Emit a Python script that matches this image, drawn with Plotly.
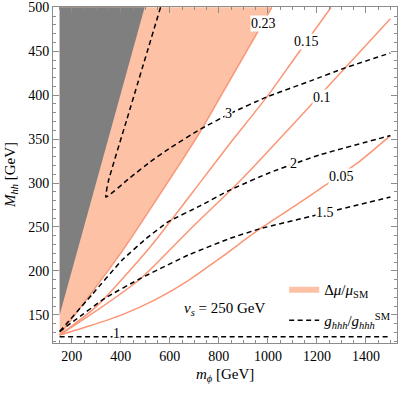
import plotly.graph_objects as go

# ──────────  DATA  ──────────
# kinematically excluded region (dark grey)
excl_m = [150, 150, 497]
excl_M = [150, 500, 500]

# Δμ/μ_SM contours (salmon)
mu023_m = [150, 404, 594, 723, 847, 1016]
mu023_M = [127, 222, 302, 358, 418, 500]
mu015_m = [150, 302, 519, 730, 845, 996, 1104, 1258]
mu015_M = [127, 160, 227, 303, 345, 398, 440, 500]
mu010_m = [150, 302, 484, 685, 888, 1110, 1312, 1500]
mu010_M = [127, 155, 192, 248, 303, 369, 430, 487]
mu005_m = [150, 267, 404, 539, 675, 812, 968, 1110, 1226, 1362, 1500]
mu005_M = [127, 137, 150, 167, 189, 216, 248, 274, 296, 322, 354]

# g_hhh / g_hhh^SM contours (dashed)
g1_m = [150, 1500]
g1_M = [125, 125]
g15_m = [150, 213, 335, 484, 675, 845, 968, 1233, 1500]
g15_M = [131, 144, 169, 192, 218, 237, 248, 266, 284]
g2_m = [150, 282, 404, 504, 594, 723, 845, 1009, 1211, 1500]
g2_M = [131, 173, 212, 237, 256, 274, 292, 312, 332, 354]
g3_m = [562, 424, 349, 339, 437, 519, 601, 723, 845, 996, 1172, 1315, 1500]
g3_M = [500, 372, 302, 284, 306, 324, 340, 361, 379, 398, 416, 431, 448]

# contour labels
lab_txt = ["0.23", "0.15", "0.1", "0.05", "3", "2", "1.5", "1"]
lab_m = [981, 1158, 1220, 1302, 838, 1104, 1233, 382]
lab_M = [481, 461, 397, 308, 379, 322, 266, 129]

# ──────────  STYLE  ──────────
FONT   = "Liberation Serif"
SALMON = "rgb(250,150,118)"
FILL   = "rgb(253,193,166)"
GREY   = "rgb(127,127,127)"
FRAME  = "rgb(140,140,140)"
DASH   = "5px,3.5px"

fig = go.Figure()

# filled region Δμ/μ_SM > 0.23
fig.add_trace(go.Scatter(
    x=mu023_m + [150], y=mu023_M + [500],
    fill="toself", fillcolor=FILL, mode="lines", line=dict(width=0),
    name="Δ<i>μ</i>/<i>μ</i><sub>SM</sub>", legendgroup="a", hoverinfo="skip"
))

fig.add_trace(go.Scatter(
    x=excl_m, y=excl_M, fill="toself", fillcolor=GREY,
    mode="lines", line=dict(width=0), showlegend=False, hoverinfo="skip"
))

for xs, ys in [(mu023_m, mu023_M), (mu015_m, mu015_M),
               (mu010_m, mu010_M), (mu005_m, mu005_M)]:
    fig.add_trace(go.Scatter(
        x=xs, y=ys, mode="lines",
        line=dict(color=SALMON, width=1.5, shape="spline", smoothing=0.6),
        showlegend=False
    ))

dashed = [(g1_m, g1_M), (g15_m, g15_M), (g2_m, g2_M), (g3_m, g3_M)]
for i, (xs, ys) in enumerate(dashed):
    fig.add_trace(go.Scatter(
        x=xs, y=ys, mode="lines",
        line=dict(color="black", width=1.5, dash=DASH,
                  shape="spline", smoothing=0.4),
        name="<i>g</i><sub><i>hhh</i></sub>/<i>g</i><sub><i>hhh</i></sub><sup>SM</sup>",
        legendgroup="b", showlegend=(i == 0)
    ))

for t, xm, ym in zip(lab_txt, lab_m, lab_M):
    fig.add_annotation(x=xm, y=ym, text=t, showarrow=False,
                       bgcolor="white", borderpad=0,
                       font=dict(family=FONT, size=14, color="black"))

fig.add_annotation(x=821, y=157, text="<i>v</i><sub><i>s</i></sub> = 250 GeV",
                   showarrow=False, font=dict(family=FONT, size=15, color="black"))

# axis titles
fig.add_annotation(xref="paper", yref="paper", x=0.5, y=-0.062,
                   xanchor="center", yanchor="top",
                   text="<i>m</i><sub><i>ϕ</i></sub> [GeV]", showarrow=False,
                   font=dict(family=FONT, size=15, color="black"))
fig.add_annotation(xref="paper", yref="paper", x=-0.122, y=0.5, textangle=-90,
                   xanchor="center", yanchor="middle",
                   text="<i>M</i><sub><i>hh</i></sub> [GeV]", showarrow=False,
                   font=dict(family=FONT, size=15, color="black"))

axis_common = dict(
    showline=True, linecolor=FRAME, linewidth=1, mirror="allticks",
    ticks="inside", ticklen=6, tickcolor=FRAME, showgrid=False, zeroline=False,
    automargin=False,
    tickfont=dict(family=FONT, size=14, color="black"),
)
fig.update_xaxes(range=[123, 1527], tick0=200, dtick=200,
                 minor=dict(dtick=50, ticks="inside", ticklen=3, tickcolor=FRAME),
                 **axis_common)
fig.update_yaxes(range=[118, 500.3], tick0=150, dtick=50,
                 minor=dict(dtick=10, ticks="inside", ticklen=3, tickcolor=FRAME),
                 **axis_common)

fig.update_layout(
    width=399, height=395, plot_bgcolor="white", paper_bgcolor="white",
    margin=dict(l=53, r=2, t=7, b=52, autoexpand=False),
    legend=dict(x=0.672, y=0.21, xanchor="left", yanchor="top",
                bgcolor="rgba(0,0,0,0)", tracegroupgap=9,
                font=dict(family=FONT, size=15, color="black")),
)

# page body has a default 8px margin; drop it so the figure sits at 0,0
fig.write_html("out.html", config={"displayModeBar": False},
               post_script="document.body.style.margin='0';")
